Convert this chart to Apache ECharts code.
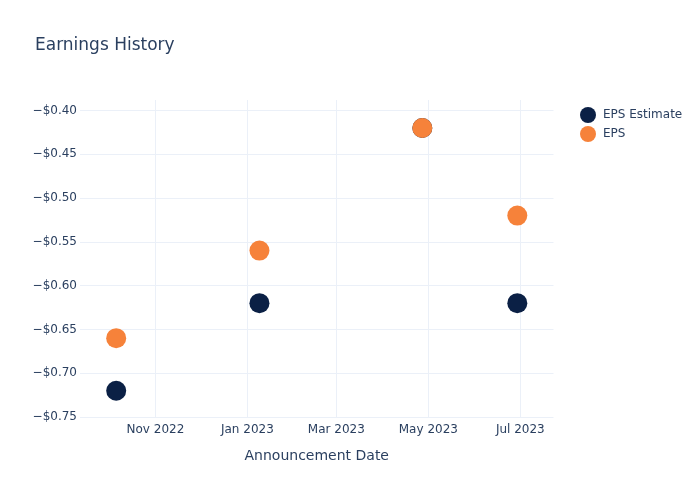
<!DOCTYPE html>
<html>
<head>
<meta charset="utf-8">
<script src="https://cdn.jsdelivr.net/npm/echarts@6/dist/echarts.min.js"></script>
<style>html,body{margin:0;padding:0;background:#fff}#c{width:700px;height:500px}</style>
</head>
<body>
<div id="c"></div>
<script>
var dates = ['2022-10-06', '2023-01-09', '2023-04-27', '2023-06-29'];
var epsEstimate = [-0.72, -0.62, -0.42, -0.62];
var eps = [-0.66, -0.56, -0.42, -0.52];
var seriesNames = ['EPS Estimate', 'EPS'];
var colors = ['#0b2045', '#f6823a'];
var MONTHS = ['Jan','Feb','Mar','Apr','May','Jun','Jul','Aug','Sep','Oct','Nov','Dec'];

function pairs(vals) { return dates.map(function (d, i) { return [d, vals[i]]; }); }

var DAY = 86400000;
var font = 'DejaVu Sans';
var txt = '#2a3f5f';
var chart = echarts.init(document.getElementById('c'), null, {renderer: 'canvas'});
chart.setOption({
  animation: false,
  backgroundColor: '#fff',
  textStyle: {fontFamily: font},
  title: {text: 'Earnings History', left: 35, top: 37, padding: 0,
    textStyle: {fontFamily: font, fontSize: 17, fontWeight: 'normal', color: txt}},
  legend: {orient: 'vertical', left: 575, top: 102, itemWidth: 16, itemHeight: 16, itemGap: 3,
    icon: 'circle', data: seriesNames,
    textStyle: {fontFamily: font, fontSize: 12, color: txt, padding: [0, 0, 0, 2]}},
  grid: {left: 80, right: 146.5, top: 100, bottom: 83, containLabel: false},
  xAxis: {
    type: 'time',
    min: '2022-09-12', max: '2023-07-23',
    splitNumber: 4, minInterval: 55 * DAY,
    name: 'Announcement Date', nameLocation: 'middle', nameGap: 32,
    nameTextStyle: {fontFamily: font, fontSize: 14, color: txt},
    axisLine: {show: false}, axisTick: {show: false},
    splitLine: {show: true, showMinLine: false, showMaxLine: false, lineStyle: {color: '#EBF0F8', width: 1}},
    axisLabel: {fontFamily: font, fontSize: 12, color: txt, margin: 7,
      showMinLabel: false, showMaxLabel: false,
      formatter: function (v) { var d = new Date(v); return MONTHS[d.getMonth()] + ' ' + d.getFullYear(); }}
  },
  yAxis: {
    type: 'value', min: -0.75, max: -0.388, interval: 0.05,
    axisLine: {show: false}, axisTick: {show: false},
    splitLine: {show: true, showMaxLine: false, lineStyle: {color: '#EBF0F8', width: 1}},
    axisLabel: {fontFamily: font, fontSize: 12, color: txt, margin: 3, showMaxLabel: false,
      formatter: function (v) { return '\u2212$' + Math.abs(v).toFixed(2); }}
  },
  series: [
    {name: seriesNames[0], type: 'scatter', data: pairs(epsEstimate), symbolSize: 20,
      itemStyle: {color: colors[0], opacity: 1}},
    {name: seriesNames[1], type: 'scatter', data: pairs(eps), symbolSize: 20,
      itemStyle: {color: colors[1], opacity: 1}}
  ]
});
</script>
</body>
</html>
